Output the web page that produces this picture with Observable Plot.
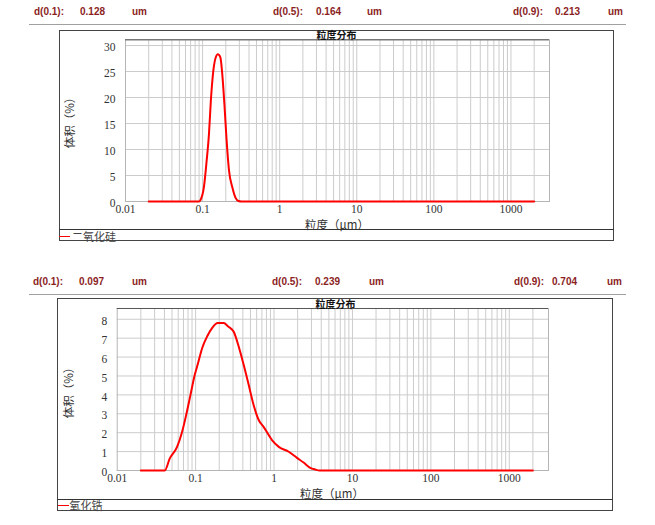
<!DOCTYPE html>
<html><head><meta charset="utf-8">
<script src="https://cdn.jsdelivr.net/npm/d3@7"></script>
<script src="https://cdn.jsdelivr.net/npm/@observablehq/plot@0.6"></script>
<style>
html,body{margin:0;padding:0;background:#fff;}
#page{position:relative;width:655px;height:525px;overflow:hidden;font-family:"Liberation Sans",Arial,sans-serif;background:#fff;}
.abs{position:absolute;white-space:nowrap;}
.hdr{font-weight:bold;font-size:10px;color:#8b1e1e;line-height:12px;}
.hrule{position:absolute;height:0;border-top:1.5px solid #a0a0a0;}
.box{position:absolute;border:1px solid #444;box-sizing:border-box;}
.sep{position:absolute;height:0;border-top:1px solid #333;}
.title{font-family:"Noto Sans CJK SC";font-weight:bold;font-size:10px;line-height:10px;color:#111;transform:translate(-50%,-50%);}
.xlab{font-family:"Noto Sans CJK SC";font-size:11.5px;line-height:12px;color:#333;transform:translate(-50%,-50%);}
.ylab{font-family:"Noto Sans CJK SC";font-size:11.5px;line-height:12px;color:#333;transform:translate(-50%,-50%) rotate(-90deg);}
.leg{font-family:"Noto Sans CJK SC";font-size:11px;line-height:11px;color:#444;}
.legline{position:absolute;height:0;border-top:1.5px solid #ff0000;}
#page svg{position:absolute;}
#page svg text{font-family:"Liberation Serif","DejaVu Serif",serif !important;font-size:11.5px;}
</style></head>
<body><div id="page"></div>
<script>
// ---------- data ----------
const headerLabels = ["d(0.1):", "d(0.5):", "d(0.9):"];
const headerUnit = "um";
const dValues1 = ["0.128", "0.164", "0.213"];
const dValues2 = ["0.097", "0.239", "0.704"];

const chartTitle = "粒度分布";
const xAxisLabel = "粒度（μm）";
const yAxisLabel = "体积（%）";
const seriesName1 = "二氧化硅";
const seriesName2 = "氧化锆";

const xTicks = [0.01, 0.1, 1, 10, 100, 1000];
const xTickLabels = ["0.01", "0.1", "1", "10", "100", "1000"];
const yTicks1 = [0, 5, 10, 15, 20, 25, 30];
const yTicks2 = [0, 1, 2, 3, 4, 5, 6, 7, 8];

// particle size (µm) and volume (%) – 二氧化硅
const size1 = [0.02, 0.09, 0.094, 0.104, 0.113, 0.121, 0.128, 0.138, 0.148, 0.158, 0.170, 0.180, 0.193, 0.205, 0.220, 0.243, 0.268, 0.291, 0.32, 2000];
const vol1  = [0,    0,    0.3,   2.75,  7.9,   13,    19.4,  25.2,  27.7,  28.3,  27.7,  24.5,  18.1,  11.7,  6,     2.75,  0.7,   0.1,   0,    0];

// particle size (µm) and volume (%) – 氧化锆
const size2 = [0.02, 0.0404, 0.0468, 0.058, 0.0673, 0.0757, 0.086, 0.0975, 0.106, 0.121, 0.140, 0.162, 0.191, 0.228, 0.26, 0.305, 0.354, 0.410, 0.475, 0.549, 0.637, 0.736, 0.942, 1.15, 1.54, 1.96, 2.38, 2.90, 3.36, 3.8, 2000];
const vol2  = [0,    0,      0.64,   1.25,  2.05,   2.93,   4.0,   5.06,   5.59,  6.47,  7.09,  7.53,  7.8,   7.8,   7.62, 7.35,  6.56,  5.59,  4.53,  3.46,  2.67,  2.31,  1.61,  1.25, 0.99, 0.67, 0.42, 0.14, 0.05, 0,   0];

// minor grid: 2..9 within each decade, plus decades, up to 2000
const gridMultipliers = [1, 2, 3, 4, 5, 6, 7, 8, 9];
const gridDecades = [0.01, 0.1, 1, 10, 100, 1000];
const xGrid = gridDecades.flatMap(d => gridMultipliers.map(m => +(d * m).toPrecision(3)))
  .filter(v => v > 0.01 && v <= 2000);

// ---------- layout helpers ----------
const page = document.getElementById("page");
function el(cls, left, top, text, extra) {
  const d = document.createElement("div");
  d.className = "abs " + cls;
  d.style.left = left + "px";
  d.style.top = top + "px";
  if (text != null) d.textContent = text;
  if (extra) Object.assign(d.style, extra);
  page.appendChild(d);
  return d;
}

function header(y, values, xs) {
  headerLabels.forEach((lab, i) => {
    el("hdr", xs[i][0], y - 6, lab);
    el("hdr", xs[i][1], y - 6, values[i]);
    el("hdr", xs[i][2], y - 6, headerUnit);
  });
}

function chart(cfg) {
  const data = cfg.size.map((s, i) => ({size: s, vol: cfg.vol[i]}));
  const svg = Plot.plot({
    width: cfg.w, height: cfg.h,
    marginLeft: cfg.ml, marginRight: cfg.mr, marginTop: cfg.mt, marginBottom: cfg.mb,
    style: {fontFamily: "'Liberation Serif', serif", fontSize: "11.5px", color: "#333", background: "transparent", overflow: "visible"},
    x: {type: "log", domain: [0.01, 3162]},
    y: {domain: [0, cfg.ymax]},
    marks: [
      Plot.ruleX(xGrid, {stroke: "#cccccc", strokeWidth: 1}),
      Plot.ruleY(cfg.yTicks, {stroke: "#cccccc", strokeWidth: 1}),
      Plot.frame({stroke: "#b5b5b5"}),
      Plot.ruleY([cfg.ymax], {stroke: "#555", strokeWidth: 1}),
      Plot.axisX(xTicks, {tickSize: 0, tickPadding: 3, label: null, tickFormat: d => xTickLabels[xTicks.indexOf(d)]}),
      Plot.axisY(cfg.yTicks, {tickSize: 0, tickPadding: 10, label: null, dy: 2}),
      Plot.line(data, {x: "size", y: "vol", stroke: "#ff0000", strokeWidth: 2, curve: "monotone-x"})
    ]
  });
  svg.style.left = cfg.left + "px";
  svg.style.top = cfg.top + "px";
  page.appendChild(svg);
}

// ---------- panel 1 ----------
header(12.3, dValues1, [[34, 80, 132], [273, 316, 367], [513, 555, 608]]);
el("hrule", 29, 24, null, {width: "597px"});
chart({left: 59, top: 30, w: 554, h: 199, ml: 66, mr: 64, mt: 9.3, mb: 28,
       ymax: 31.1, yTicks: yTicks1, size: size1, vol: vol1});
el("box", 59, 30, null, {width: "555px", height: "211px"});
el("sep", 59, 229, null, {width: "555px"});
el("title", 336.5, 34.8, chartTitle);
el("xlab", 337, 223.5, xAxisLabel);
el("ylab", 69, 120, yAxisLabel);
el("legline", 59, 235.5, null, {width: "11px"});
el("leg", 72, 231, seriesName1);

// ---------- panel 2 ----------
header(281.7, dValues2, [[33, 79, 132], [272, 315, 369], [514, 552, 607]]);
el("hrule", 29, 293.5, null, {width: "597px"});
chart({left: 57, top: 298.3, w: 556, h: 200.7, ml: 59.7, mr: 65, mt: 10, mb: 28.7,
       ymax: 8.57, yTicks: yTicks2, size: size2, vol: vol2});
el("box", 57, 298, null, {width: "556px", height: "213px"});
el("sep", 57, 499, null, {width: "556px"});
el("title", 335.5, 303.5, chartTitle);
el("xlab", 332, 492.5, xAxisLabel);
el("ylab", 68, 390, yAxisLabel);
el("legline", 58, 504.5, null, {width: "11px"});
el("leg", 69.5, 500, seriesName2);
</script>
</body></html>
